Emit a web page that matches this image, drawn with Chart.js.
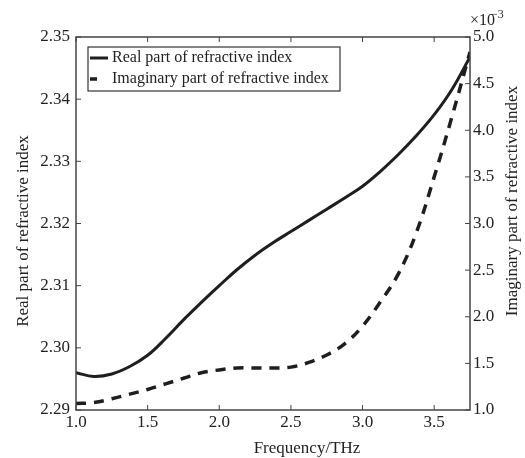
<!DOCTYPE html>
<html>
<head>
<meta charset="utf-8">
<script src="https://cdn.jsdelivr.net/npm/chart.js@4/dist/chart.umd.min.js"></script>
<style>
html,body{margin:0;padding:0;background:#fff;}
#wrap{width:525px;height:458px;position:relative;}
</style>
</head>
<body>
<div id="wrap"><canvas id="c" width="525" height="458"></canvas></div>
<script>
const frequency = [1.0,1.125,1.25,1.375,1.5,1.625,1.75,1.875,2.0,2.125,2.25,2.375,2.5,2.625,2.75,2.875,3.0,3.125,3.25,3.375,3.5,3.625,3.75];
const realPart = [2.2960,2.2954,2.2958,2.2970,2.2988,2.3015,2.3045,2.3073,2.3100,2.3126,2.3149,2.3169,2.3187,2.3205,2.3223,2.3241,2.3260,2.3284,2.3311,2.3341,2.3375,2.3416,2.3468];
const imagPart = [1.07,1.08,1.12,1.17,1.22,1.28,1.34,1.40,1.43,1.45,1.45,1.45,1.46,1.51,1.59,1.71,1.90,2.16,2.46,2.90,3.50,4.15,4.84];
const seriesLabels = ["Real part of refractive index","Imaginary part of refractive index"];
const xTitle = "Frequency/THz";
const yLeftTitle = "Real part of refractive index";
const yRightTitle = "Imaginary part of refractive index";

const FONT = '"Liberation Serif","Times New Roman",serif';
const TXT = '#222';
const INK = '#1e1e1e';

const decor = {
  id:'decor',
  afterDraw(chart){
    const ctx = chart.ctx, a = chart.chartArea;
    const sx = chart.scales.x, yl = chart.scales.yL, yr = chart.scales.yR;
    ctx.save();
    // frame
    ctx.strokeStyle = '#444'; ctx.lineWidth = 1.5;
    ctx.strokeRect(a.left, a.top, a.right - a.left, a.bottom - a.top);
    // inward ticks
    const tl = 5;
    ctx.lineWidth = 1;
    ctx.beginPath();
    sx.ticks.forEach(t => { const p = sx.getPixelForValue(t.value);
      ctx.moveTo(p, a.bottom); ctx.lineTo(p, a.bottom - tl);
      ctx.moveTo(p, a.top); ctx.lineTo(p, a.top + tl); });
    yl.ticks.forEach(t => { const p = yl.getPixelForValue(t.value);
      ctx.moveTo(a.left, p); ctx.lineTo(a.left + tl, p); });
    yr.ticks.forEach(t => { const p = yr.getPixelForValue(t.value);
      ctx.moveTo(a.right, p); ctx.lineTo(a.right - tl, p); });
    ctx.stroke();
    // titles
    ctx.fillStyle = TXT;
    ctx.font = '17px ' + FONT;
    ctx.textAlign = 'center'; ctx.textBaseline = 'middle';
    ctx.fillText(xTitle, 307, 449);
    ctx.save(); ctx.translate(24, 231); ctx.rotate(-Math.PI/2); ctx.fillText(yLeftTitle, 0, 0); ctx.restore();
    ctx.save(); ctx.translate(513, 201); ctx.rotate(-Math.PI/2); ctx.fillText(yRightTitle, 0, 0); ctx.restore();
    // exponent
    ctx.textAlign = 'left'; ctx.textBaseline = 'alphabetic';
    ctx.font = '16px ' + FONT;
    ctx.fillText('\u00d710', 470, 25);
    ctx.font = '12px ' + FONT;
    ctx.fillText('\u22123', 491, 18);
    // legend
    const lx = 88, ly = 47, lw = 252, lh = 44;
    ctx.fillStyle = '#fff';
    ctx.fillRect(lx, ly, lw, lh);
    ctx.strokeStyle = '#333'; ctx.lineWidth = 1.2;
    ctx.strokeRect(lx, ly, lw, lh);
    const rows = [58, 79];
    chart.data.datasets.forEach((ds, i) => {
      ctx.strokeStyle = ds.borderColor; ctx.lineWidth = ds.borderWidth;
      ctx.setLineDash(i === 1 ? [7, 14] : []);
      ctx.beginPath(); ctx.moveTo(90, rows[i]); ctx.lineTo(108, rows[i]); ctx.stroke();
      ctx.setLineDash([]);
      ctx.fillStyle = TXT; ctx.font = '16px ' + FONT; ctx.textBaseline = 'middle';
      ctx.fillText(ds.label, 112, rows[i]);
    });
    ctx.restore();
  }
};

new Chart(document.getElementById('c'), {
  type: 'line',
  data: {
    datasets: [
      { label: seriesLabels[0], data: frequency.map((x,i)=>({x, y: realPart[i]})), yAxisID:'yL',
        borderColor: INK, borderWidth: 3, pointRadius: 0, tension: 0.4, fill:false },
      { label: seriesLabels[1], data: frequency.map((x,i)=>({x, y: imagPart[i]})), yAxisID:'yR',
        borderColor: INK, borderWidth: 3.5, borderDash:[10,8], pointRadius: 0, tension: 0.4, fill:false }
    ]
  },
  options: {
    responsive: false, animation: false,
    layout: { padding: { top: 37, left: 0, right: 0, bottom: 0 } },
    plugins: { legend: { display: false }, tooltip: { enabled: false } },
    scales: {
      x: { type:'linear', position:'bottom', min:1, max:3.75,
        grid:{ display:false, drawTicks:false }, border:{ display:false },
        ticks:{ stepSize:0.5, includeBounds:false, padding:2, color:TXT, font:{family:FONT, size:17},
          callback:v=>Number(v).toFixed(1), maxRotation:0 },
        afterFit(s){ s.height = 48; } },
      yL: { type:'linear', position:'left', min:2.29, max:2.35,
        grid:{ display:false, drawTicks:false }, border:{ display:false },
        ticks:{ stepSize:0.01, padding:6, color:TXT, font:{family:FONT, size:17},
          callback:v=>Number(v).toFixed(2) },
        afterFit(s){ s.width = 76; } },
      yR: { type:'linear', position:'right', min:1, max:5,
        grid:{ display:false, drawTicks:false }, border:{ display:false },
        ticks:{ stepSize:0.5, padding:3, color:TXT, font:{family:FONT, size:17},
          callback:v=>Number(v).toFixed(1) },
        afterFit(s){ s.width = 55; } }
    }
  },
  plugins: [decor]
});
</script>
</body>
</html>
